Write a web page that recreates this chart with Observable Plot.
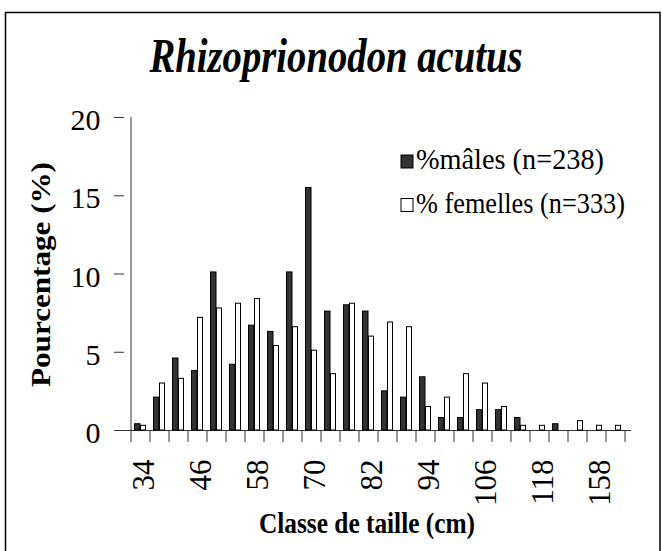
<!DOCTYPE html>
<html><head><meta charset="utf-8">
<script src="https://cdn.jsdelivr.net/npm/d3@7"></script>
<script src="https://cdn.jsdelivr.net/npm/@observablehq/plot@0.6"></script>
<style>body{margin:0;background:#fff} svg{display:block}</style>
</head><body><div id="chart"></div>
<script>
const title = "Rhizoprionodon acutus";
const yLabel = "Pourcentage (%)";
const xLabel = "Classe de taille (cm)";
const classes = ["34","38","42","46","50","54","58","62","66","70","74","78","82","86","90","94","98","102","106","110","114","118","122","154","158","162"];
const males   = [0.4,2.1,4.6,3.8,10.1,4.2,6.7,6.3,10.1,15.5,7.6,8.0,7.6,2.5,2.1,3.4,0.8,0.8,1.3,1.3,0.8,0,0.4,0,0,0];
const females = [0.3,3.0,3.3,7.2,7.8,8.1,8.4,5.4,6.6,5.1,3.6,8.1,6.0,6.9,6.6,1.5,2.1,3.6,3.0,1.5,0.3,0.3,0,0.6,0.3,0.3];
const seriesNames = ["%mâles (n=238)", "% femelles (n=333)"];
const xTickLabels = ["34","46","58","70","82","94","106","118","158"];
const yTicks = [0,5,10,15,20];

const maleRows = classes.map((c,i)=>({classe:c, v:males[i]})).filter(d=>d.v>0);
const femaleRows = classes.map((c,i)=>({classe:c, v:females[i]})).filter(d=>d.v>0);
const serif = "'Liberation Serif','Times New Roman',serif";

const chart = Plot.plot({
  width: 662, height: 551,
  marginLeft: 124, marginRight: 31, marginTop: 117, marginBottom: 121,
  style: {fontFamily: serif, background: "white", color: "black", overflow: "visible"},
  x: {type: "band", domain: classes, padding: 0, axis: null, label: null},
  y: {domain: [0,20], axis: null, label: null},
  marks: [
    Plot.axisY(yTicks, {tickSize: 10, tickFormat: () => "", stroke: "#333", label: null}),
    Plot.axisY(yTicks, {tickSize: 0, tickPadding: 24, dy: 3, fontSize: 30, label: null}),
    Plot.ruleY([0], {stroke: "#333"}),
    Plot.barY(maleRows, {x: "classe", y: "v", fill: "#333333", stroke: "black", strokeWidth: 1, insetLeft: 3.5, insetRight: 10}),
    Plot.barY(femaleRows, {x: "classe", y: "v", fill: "white", stroke: "black", strokeWidth: 1, insetLeft: 9.5, insetRight: 4.5}),
    Plot.text(xTickLabels, {x: d => d, frameAnchor: "bottom", rotate: -90, textAnchor: "end", lineAnchor: "middle", dy: 29, dx: 3, fontSize: 31})
  ]
});
document.getElementById("chart").appendChild(chart);

const svg = d3.select(chart);
const xs = chart.scale("x"), ys = chart.scale("y");
const bw = xs.bandwidth;
const x0 = xs.apply(classes[0]);
const bounds = classes.map(c => xs.apply(c)).concat([xs.apply(classes[classes.length-1]) + bw]);
const yBase = ys.apply(0);

svg.append("line").attr("x1", x0).attr("x2", x0).attr("y1", ys.apply(20)).attr("y2", yBase).attr("stroke", "#333");
svg.append("g").selectAll("line").data(bounds).join("line")
  .attr("x1", d => d).attr("x2", d => d).attr("y1", yBase).attr("y2", yBase + 12).attr("stroke", "#333");

// frame
svg.append("rect").attr("x", 5.5).attr("y", 12.5).attr("width", 654.5).attr("height", 560)
  .attr("fill", "none").attr("stroke", "black").attr("stroke-width", 1.5);

// title
svg.append("text").attr("x", 336).attr("y", 72).attr("text-anchor", "middle")
  .attr("font-family", serif).attr("font-size", 49).attr("font-weight", "bold").attr("font-style", "italic")
  .attr("textLength", 373).attr("lengthAdjust", "spacingAndGlyphs").text(title);

// y label
svg.append("text").attr("transform", "translate(50,274.5) rotate(-90)").attr("text-anchor", "middle")
  .attr("font-family", serif).attr("font-size", 28).attr("font-weight", "bold")
  .attr("textLength", 225).attr("lengthAdjust", "spacingAndGlyphs").text(yLabel);

// x label
svg.append("text").attr("x", 367).attr("y", 533).attr("text-anchor", "middle")
  .attr("font-family", serif).attr("font-size", 29).attr("font-weight", "bold")
  .attr("textLength", 216).attr("lengthAdjust", "spacingAndGlyphs").text(xLabel);

// legend
const legend = [
  {name: seriesNames[0], fill: "#333333", y: 155, tl: 188},
  {name: seriesNames[1], fill: "white", y: 198.5, tl: 209}
];
const lg = svg.append("g");
legend.forEach(d => {
  lg.append("rect").attr("x", 401).attr("y", d.y).attr("width", 12).attr("height", 13)
    .attr("fill", d.fill).attr("stroke", "black");
  lg.append("text").attr("x", 416).attr("y", d.y + 14).attr("text-anchor", "start")
    .attr("font-family", serif).attr("font-size", 30)
    .attr("textLength", d.tl).attr("lengthAdjust", "spacingAndGlyphs").text(d.name);
});
</script>
</body></html>
